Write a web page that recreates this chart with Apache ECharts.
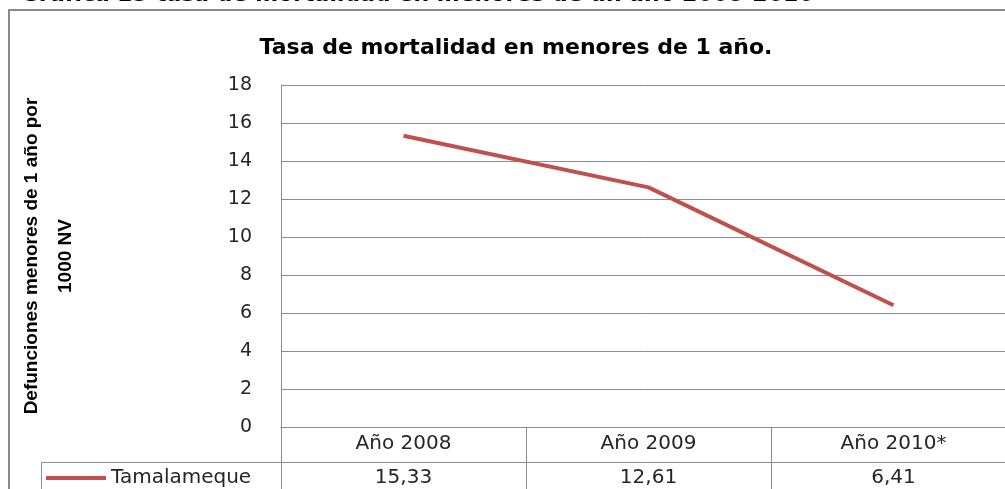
<!DOCTYPE html>
<html>
<head>
<meta charset="utf-8">
<script src="https://cdn.jsdelivr.net/npm/echarts@6/dist/echarts.min.js"></script>
<style>
  html, body { margin: 0; padding: 0; background: #fff; }
  #chart { width: 1005px; height: 489px; }
</style>
</head>
<body>
<div id="chart"></div>
<script>
// data
const years = ['Año 2008', 'Año 2009', 'Año 2010*'];
const tasa = [15.33, 12.61, 6.41];
const seriesName = 'Tamalameque';
const yTicks = { min: 0, max: 18, interval: 2 };

const gridColor = '#8c8c8c';
const lineColor = '#C0504D';
const textColor = '#262626';
const fmt = v => v.toFixed(2).replace('.', ',');

const chart = echarts.init(document.getElementById('chart'));

chart.setOption({
  animation: false,
  backgroundColor: '#fff',
  textStyle: { fontFamily: 'DejaVu Sans' },
  title: {
    text: 'Tasa de mortalidad en menores de 1 año.',
    left: 511,
    top: 32,
    textAlign: 'center',
    textStyle: { fontSize: 22, fontWeight: 'bold', color: '#000', fontFamily: 'DejaVu Sans' }
  },
  // plot runs past the right edge of the crop (last category cut off)
  grid: { left: 281, right: -11, top: 85, bottom: 62, outerBoundsMode: 'none' },
  legend: {
    data: [seriesName],
    left: 46,
    top: 468,
    padding: 0,
    icon: 'rect',
    itemWidth: 60,
    itemHeight: 4,
    textStyle: { fontSize: 20, color: textColor, lineHeight: 20 }
  },
  xAxis: [
    {
      type: 'category',
      data: years,
      position: 'bottom',
      boundaryGap: true,
      axisLine: { show: true, lineStyle: { color: gridColor, width: 1 } },
      axisTick: { show: true, interval: 0, length: 62, lineStyle: { color: gridColor, width: 1 } },
      axisLabel: { interval: 0, margin: 7, fontSize: 20, color: textColor, lineHeight: 20 }
    },
    {
      type: 'category',
      data: years,
      position: 'bottom',
      offset: 35,
      boundaryGap: true,
      axisLine: { show: true, lineStyle: { color: gridColor, width: 1 } },
      axisTick: { show: false },
      axisLabel: {
        interval: 0, margin: 6, fontSize: 20, color: textColor, lineHeight: 20,
        formatter: (v, i) => fmt(tasa[i])
      }
    }
  ],
  yAxis: {
    type: 'value',
    min: yTicks.min,
    max: yTicks.max,
    interval: yTicks.interval,
    name: 'Defunciones menores de 1 año por\n1000 NV',
    nameLocation: 'middle',
    nameMoveOverlap: false,
    nameGap: 198,
    nameRotate: 90,
    nameTextStyle: {
      fontSize: 19,
      fontWeight: 'bold',
      color: '#000',
      lineHeight: 34,
      fontFamily: "'Liberation Sans', Arial, sans-serif"
    },
    axisLine: { show: true, lineStyle: { color: gridColor, width: 1 } },
    axisTick: { show: false },
    axisLabel: { fontSize: 19, color: textColor, margin: 29 },
    splitLine: { show: true, lineStyle: { color: gridColor, width: 1 } }
  },
  series: [
    {
      name: seriesName,
      type: 'line',
      data: tasa,
      showSymbol: false,
      symbol: 'none',
      lineStyle: { color: lineColor, width: 4 },
      itemStyle: { color: lineColor }
    }
  ],
  graphic: [
    // outer chart frame
    {
      type: 'rect',
      shape: { x: 9, y: 10, width: 1100, height: 600 },
      style: { fill: null, stroke: '#8a8a8a', lineWidth: 2 },
      silent: true
    },
    // legend cell border of the data table
    {
      type: 'polyline',
      shape: { points: [[41.5, 495], [41.5, 462.5], [281, 462.5]] },
      style: { fill: null, stroke: gridColor, lineWidth: 1 },
      silent: true
    },
    // caption above the chart, cut off by the crop
    {
      type: 'text',
      x: 22,
      y: 6,
      style: {
        text: 'Gráfica 15 tasa de mortalidad en menores de un año 2008-2010',
        font: 'italic bold 22px DejaVu Sans',
        fill: '#000',
        verticalAlign: 'bottom'
      },
      silent: true
    }
  ]
});
</script>
</body>
</html>
